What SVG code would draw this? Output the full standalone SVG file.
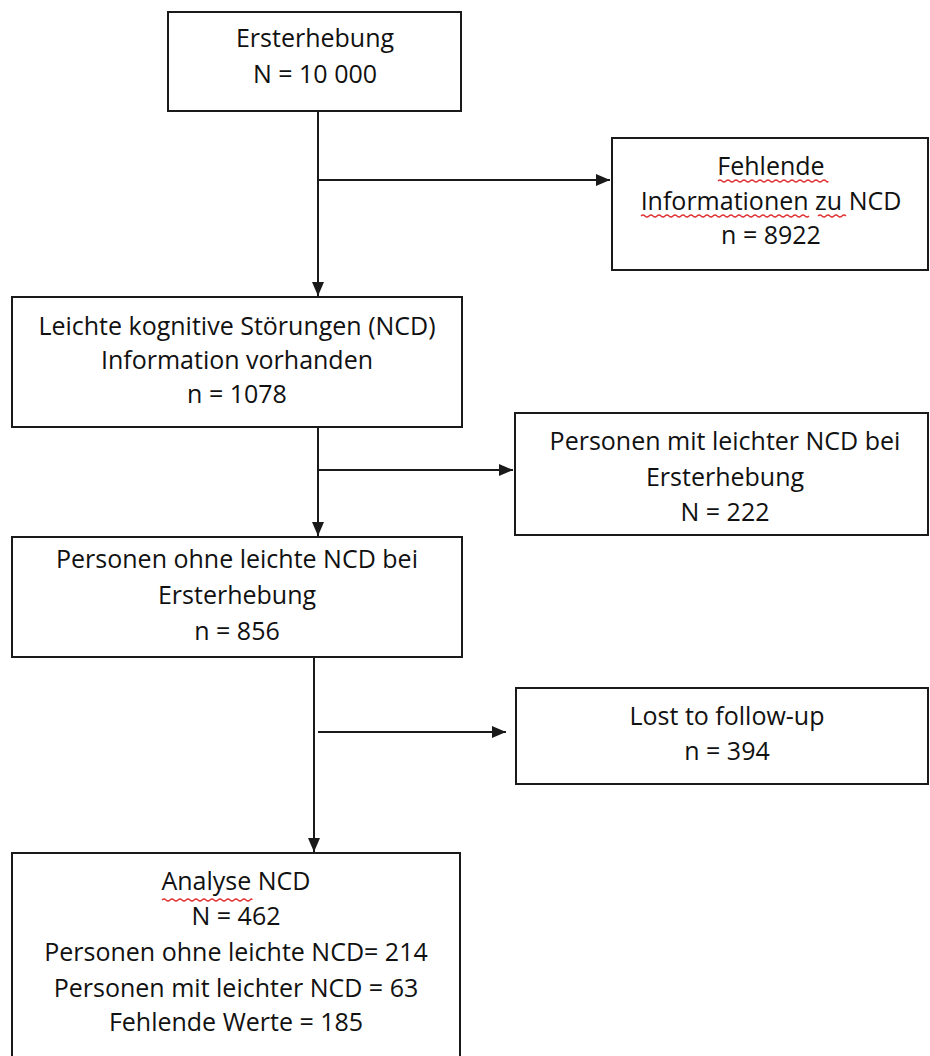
<svg xmlns="http://www.w3.org/2000/svg" width="930" height="1056" viewBox="0 0 930 1056">
<style>
.box{fill:#fff;stroke:#1a1a1a;stroke-width:2}
.t{font-family:"Open Sans","Liberation Sans",sans-serif;font-size:25px;fill:#111;text-anchor:middle}
.ln{stroke:#1a1a1a;stroke-width:2;fill:none}
.sq{stroke:#e03030;stroke-width:1.3;fill:none}
</style>
<defs>
<marker id="a" viewBox="0 0 14 12" refX="14" refY="6" markerWidth="14" markerHeight="12" markerUnits="userSpaceOnUse" orient="auto">
<path d="M0,0 L14,6 L0,12 Z" fill="#1a1a1a"/>
</marker>
</defs>
<g id="connectors">
<path class="ln" d="M318,111 V296" marker-end="url(#a)"/>
<path class="ln" d="M318,180 H610" marker-end="url(#a)"/>
<path class="ln" d="M318,427 V536" marker-end="url(#a)"/>
<path class="ln" d="M318,470 H513" marker-end="url(#a)"/>
<path class="ln" d="M314,657 V852" marker-end="url(#a)"/>
<path class="ln" d="M318,732 H506" marker-end="url(#a)"/>
</g>
<g id="n1">
<rect class="box" x="168" y="12" width="293" height="99"/>
<text class="t" x="315" y="47">Ersterhebung</text>
<text class="t" x="315" y="83">N = 10 000</text>
</g>
<g id="n2">
<rect class="box" x="612" y="138" width="316" height="132"/>
<text class="t" x="771" y="175">Fehlende</text>
<text class="t" x="771" y="210">Informationen zu NCD</text>
<text class="t" x="771" y="244">n = 8922</text>
<path class="sq" d="M718,181 q2,-2 4,0 t4,0 t4,0 t4,0 t4,0 t4,0 t4,0 t4,0 t4,0 t4,0 t4,0 t4,0 t4,0 t4,0 t4,0 t4,0 t4,0 t4,0 t4,0 t4,0 t4,0 t4,0 t4,0 t4,0 t4,0 t4,0 t4,0 t2,0"/>
<path class="sq" d="M641,216 q2,-2 4,0 t4,0 t4,0 t4,0 t4,0 t4,0 t4,0 t4,0 t4,0 t4,0 t4,0 t4,0 t4,0 t4,0 t4,0 t4,0 t4,0 t4,0 t4,0 t4,0 t4,0 t4,0 t4,0 t4,0 t4,0 t4,0 t4,0 t4,0 t4,0 t4,0 t4,0 t4,0 t4,0 t4,0 t4,0 t4,0 t4,0 t4,0 t4,0 t4,0 t4,0 t4,0"/>
<path class="sq" d="M818,216 q2,-2 4,0 t4,0 t4,0 t4,0 t4,0 t4,0 t4,0"/>
</g>
<g id="n3">
<rect class="box" x="12" y="297" width="450" height="130"/>
<text class="t" x="237" y="335">Leichte kognitive Störungen (NCD)</text>
<text class="t" x="237" y="369">Information vorhanden</text>
<text class="t" x="237" y="403">n = 1078</text>
</g>
<g id="n4">
<rect class="box" x="515" y="413" width="413" height="122"/>
<text class="t" x="725" y="450">Personen mit leichter NCD bei</text>
<text class="t" x="725" y="486">Ersterhebung</text>
<text class="t" x="725" y="521">N = 222</text>
</g>
<g id="n5">
<rect class="box" x="12" y="537" width="450" height="120"/>
<text class="t" x="237" y="568">Personen ohne leichte NCD bei</text>
<text class="t" x="237" y="604">Ersterhebung</text>
<text class="t" x="237" y="640">n = 856</text>
</g>
<g id="n6">
<rect class="box" x="516" y="688" width="412" height="96"/>
<text class="t" x="727" y="725">Lost to follow-up</text>
<text class="t" x="727" y="760">n = 394</text>
</g>
<g id="n7">
<rect class="box" x="12" y="853" width="448" height="220"/>
<text class="t" x="236" y="890">Analyse NCD</text>
<text class="t" x="236" y="925">N = 462</text>
<text class="t" x="236" y="961">Personen ohne leichte NCD= 214</text>
<text class="t" x="236" y="997">Personen mit leichter NCD = 63</text>
<text class="t" x="236" y="1031">Fehlende Werte = 185</text>
<path class="sq" d="M162,900 q2,-2 4,0 t4,0 t4,0 t4,0 t4,0 t4,0 t4,0 t4,0 t4,0 t4,0 t4,0 t4,0 t4,0 t4,0 t4,0 t4,0 t4,0 t4,0 t4,0 t4,0 t4,0 t4,0 t2,0"/>
</g>
</svg>
